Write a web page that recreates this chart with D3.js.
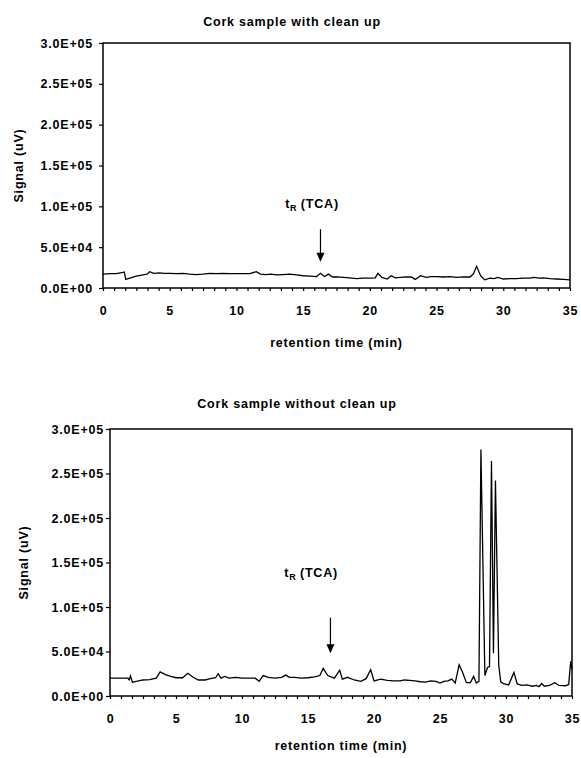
<html>
<head>
<meta charset="utf-8">
<title>Cork sample chromatograms</title>
<script src="https://cdn.jsdelivr.net/npm/d3@7"></script>
<style type="text/css">
* { margin: 0; padding: 0; }
body { background: #fff; }
svg text {
  font-family: "Liberation Sans", Arial, sans-serif;
  font-weight: bold;
  font-size: 12.5px;
  letter-spacing: 0.8px;
  fill: #000;
}
.domain { display: none; }
.tick line { stroke: #000; stroke-width: 1.2; }
</style>
</head>
<body>
<div id="chart"></div>
<script type="text/javascript">
// retention time (min) and signal (uV)
var cleanTime = [0,0.5,1,1.5,1.6,1.7,2,2.5,3,3.3,3.5,3.8,4.2,4.6,5,5.5,6,6.5,7,7.5,8,8.5,9,9.5,
  10,10.5,11,11.5,11.8,12.2,12.6,13,13.5,14,14.5,15,15.5,16,16.3,16.6,16.9,17.2,17.6,18,18.5,19,19.5,
  20,20.4,20.6,20.9,21.3,21.6,21.9,22.3,22.7,23.1,23.4,23.8,24.2,24.6,25,25.5,26,26.5,27,27.5,27.75,
  28,28.3,28.6,29,29.3,29.6,30,30.5,31,31.5,32,32.3,32.7,33,33.5,34,34.5,35];
var cleanSignal = [17000,17500,17500,19000,19500,10500,12000,14500,16000,17000,20000,18000,18500,18000,18000,17500,18000,17000,16500,17000,18000,17500,18000,17500,
  17500,17500,17500,20000,17000,16500,17000,16000,16500,17000,16000,15000,14500,14000,18000,14000,17000,13500,13500,13000,12500,11500,12000,
  12000,12500,18000,13000,11000,15000,12500,13000,13500,13500,10500,15000,13000,14000,14000,13500,14000,13000,13500,13500,17000,
  26500,15000,10000,12000,11500,13000,11000,11500,11500,12000,12000,13000,12000,12500,11500,11000,10500,10000];

var rawTime = [0,0.5,1,1.35,1.45,1.55,1.7,2,2.5,3,3.5,3.8,4.2,4.6,5,5.5,5.9,6.3,6.7,7.2,
  7.6,8,8.2,8.4,8.7,9,9.5,10,10.5,11,11.3,11.6,12,12.5,13,13.3,13.6,14,14.5,15,
  15.5,15.9,16.15,16.5,17,17.4,17.6,18,18.5,19,19.4,19.75,20,20.5,21,21.5,22,22.3,22.7,23.1,
  23.5,23.9,24.3,24.7,25,25.3,25.6,25.9,26.15,26.45,26.7,27,27.3,27.55,27.75,27.95,28.1,28.4,28.6,28.75,
  28.9,29.05,29.2,29.45,29.6,29.8,30.2,30.6,30.85,31.2,31.6,32,32.3,32.5,32.7,32.9,33.3,33.7,34,34.5,
  34.75,34.9,35];
var rawSignal = [20000,20000,20000,20000,18000,22500,15500,16500,18000,18500,20000,27000,24000,22000,20500,20500,25500,21000,18000,18000,
  19500,20500,25000,20000,22000,20000,21000,20000,20000,20000,16500,23000,21000,20000,21000,23500,21000,21000,20000,20500,
  21500,23000,31000,23000,20000,29000,19000,21000,18000,16500,19500,29500,17000,19000,17500,17000,17000,18000,17500,17000,
  16000,15500,17000,16500,14500,16500,17000,19000,14500,35000,27000,15000,15000,22000,14500,16500,277000,23000,32000,33000,
  264000,48000,242000,35000,16000,14000,12500,26500,13500,12000,12500,11000,12000,10500,14000,11000,12000,15000,12000,11500,
  13000,39000,30000];

var yTicks = [0, 50000, 100000, 150000, 200000, 250000, 300000];
var xTicks = [0, 5, 10, 15, 20, 25, 30, 35];
var titles = ["Cork sample with clean up", "Cork sample without clean up"];

// TCA marker: time, label anchor (time, signal), arrow top and tip (signal)
var tcaClean = { t: 16.3, labelT: 13.65, labelV: 98000, top: 72000, tip: 32000 };
var tcaRaw = { t: 16.7, labelT: 13.2, labelV: 134000, top: 88000, tip: 48000 };

function sci(d) {
  var parts = d.toExponential(1).split("e");
  var e = parts[1];
  var sign = e[0];
  var digits = e.slice(1);
  if (digits.length < 2) digits = "0" + digits;
  return parts[0] + "E" + sign + digits;
}

var svg = d3.select("#chart").append("svg")
  .attr("width", 581)
  .attr("height", 758);

function drawPanel(cfg) {
  var x = d3.scaleLinear().domain([0, 35]).range([cfg.left, cfg.right]);
  var y = d3.scaleLinear().domain([0, 300000]).range([cfg.bottom, cfg.top]);
  var g = svg.append("g");

  g.append("text")
    .attr("x", cfg.titleX)
    .attr("y", cfg.titleY)
    .attr("text-anchor", "middle")
    .text(cfg.title);

  // y axis
  g.append("g")
    .attr("transform", "translate(" + cfg.left + ",0)")
    .call(d3.axisLeft(y).tickValues(yTicks).tickFormat(sci).tickSize(4).tickPadding(cfg.yPad));

  // minor ticks on x
  var minor = d3.range(0, 43).map(function(i) { return i * 5 / 6; });
  g.append("g")
    .attr("transform", "translate(0," + cfg.bottom + ")")
    .call(d3.axisBottom(x).tickValues(minor).tickFormat("").tickSize(3));

  g.append("g")
    .attr("transform", "translate(0," + cfg.bottom + ")")
    .call(d3.axisBottom(x).tickValues(xTicks).tickFormat(d3.format("d")).tickSize(0).tickPadding(18));

  g.append("text")
    .attr("x", (cfg.left + cfg.right) / 2)
    .attr("y", cfg.xTitleY)
    .attr("text-anchor", "middle")
    .text("retention time (min)");

  g.append("text")
    .attr("transform", "translate(" + cfg.yTitleX + "," + ((cfg.top + cfg.bottom) / 2) + ") rotate(-90)")
    .attr("text-anchor", "middle")
    .text("Signal (uV)");

  // plot frame
  g.append("rect")
    .attr("x", cfg.left)
    .attr("y", cfg.top)
    .attr("width", cfg.right - cfg.left)
    .attr("height", cfg.bottom - cfg.top)
    .attr("fill", "none")
    .attr("stroke", "#000")
    .attr("stroke-width", 1.5);

  var line = d3.line()
    .x(function(d, i) { return x(cfg.time[i]); })
    .y(function(d) { return y(d); });

  g.append("path")
    .datum(cfg.signal)
    .attr("d", line)
    .attr("fill", "none")
    .attr("stroke", "#000")
    .attr("stroke-width", 1.3)
    .attr("stroke-linejoin", "miter");

  // t_R (TCA) label and arrow
  var m = cfg.tca;
  var lbl = g.append("text")
    .attr("x", x(m.labelT))
    .attr("y", y(m.labelV));
  lbl.append("tspan").text("t");
  lbl.append("tspan").attr("dy", 3).style("font-size", "9px").style("letter-spacing", "0px").text("R");
  lbl.append("tspan").attr("dy", -3).text(" (TCA)");

  var ax = x(m.t);
  var tipY = y(m.tip);
  g.append("line")
    .attr("x1", ax).attr("x2", ax)
    .attr("y1", y(m.top)).attr("y2", tipY - 6)
    .attr("stroke", "#000")
    .attr("stroke-width", 1.2);
  g.append("path")
    .attr("d", "M" + (ax - 4) + "," + (tipY - 9) + "L" + (ax + 4) + "," + (tipY - 9) + "L" + ax + "," + tipY + "Z")
    .attr("fill", "#000");
}

drawPanel({
  left: 103, right: 570, top: 43, bottom: 288,
  title: titles[0], titleX: 292, titleY: 26,
  xTitleY: 347, yTitleX: 23, yPad: 6,
  time: cleanTime, signal: cleanSignal, tca: tcaClean
});

drawPanel({
  left: 110, right: 572, top: 429, bottom: 696,
  title: titles[1], titleX: 297, titleY: 408,
  xTitleY: 750, yTitleX: 28, yPad: 2,
  time: rawTime, signal: rawSignal, tca: tcaRaw
});
</script>
</body>
</html>
